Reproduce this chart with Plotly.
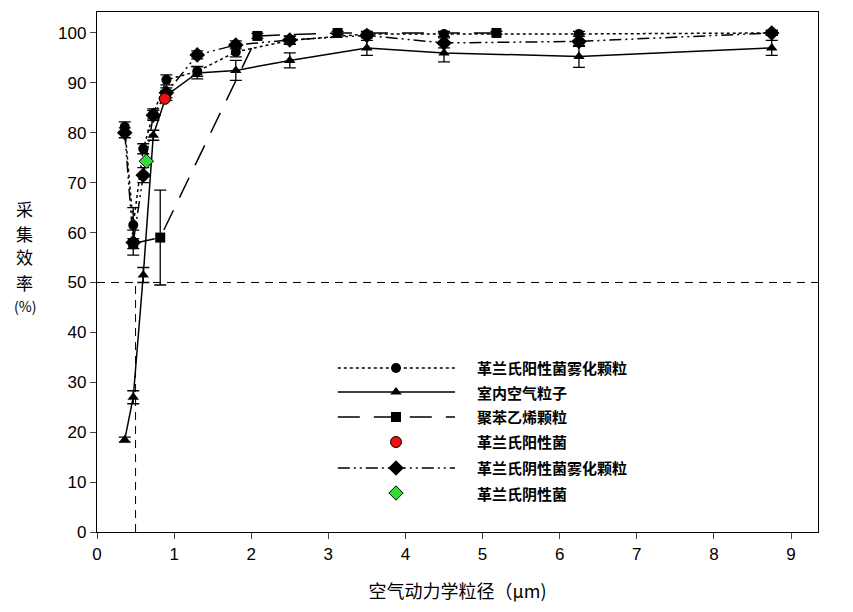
import plotly.graph_objects as go

# ---- data ----
x_common = [0.36, 0.47, 0.6, 0.73, 0.9, 1.3, 1.8, 2.5, 3.5, 4.5, 6.25, 8.75]
gp_aero = [81.2, 61.5, 76.8, 83.8, 90.6, 92.3, 96.2, 98.5, 99.8, 99.8, 99.8, 100]
gp_aero_err = [1.0, 3.5, 1.0, 1.0, 1.0, 1.0, 1.0, 0.8, 0.5, 0.5, 0.5, 0.5]
indoor = [18.5, 27.0, 51.5, 79.5, 87.5, 92.0, 92.5, 94.5, 97.0, 96.0, 95.3, 97.0]
indoor_err = [0.5, 1.3, 1.5, 1.0, 1.0, 1.2, 2.0, 1.5, 1.5, 1.8, 2.2, 1.5]
gn_aero = [80.0, 58.0, 71.5, 83.5, 88.0, 95.6, 97.6, 98.6, 99.5, 98.0, 98.3, 100]
gn_aero_err = [1.0, 2.5, 1.5, 1.0, 1.0, 0.8, 0.8, 0.8, 0.5, 1.0, 1.0, 0.5]
ps_x = [0.47, 0.82, 2.08, 3.12, 5.18]
ps_y = [57.8, 59.0, 99.4, 100.0, 100.0]
ps_err = [1.0, 9.5, 0.5, 0.3, 0.3]
gp_x = [0.88]
gp_y = [86.8]
gn_x = [0.64]
gn_y = [74.3]

names = ["革兰氏阳性菌雾化颗粒", "室内空气粒子", "聚苯乙烯颗粒", "革兰氏阳性菌",
         "革兰氏阴性菌雾化颗粒", "革兰氏阴性菌"]
y_title_chars = ["采", "集", "效", "率", "(%)"]

x_ticks = list(range(0, 10))
y_ticks = list(range(0, 101, 10))

DDOT = "12px,4px,2px,4px,2px,4px"
fig = go.Figure()

def eb(arr):
    return dict(type="data", array=arr, visible=True, color="black", thickness=1.3, width=6)

fig.add_trace(go.Scatter(x=x_common, y=indoor, mode="lines+markers",
                         line=dict(color="black", width=1.5),
                         marker=dict(symbol="triangle-up", size=10, color="black"),
                         error_y=eb(indoor_err), showlegend=False))
fig.add_trace(go.Scatter(x=ps_x, y=ps_y, mode="lines+markers",
                         line=dict(color="black", width=1.5, dash="22px,14px"),
                         marker=dict(symbol="square", size=10, color="black"),
                         error_y=eb(ps_err), showlegend=False))
fig.add_trace(go.Scatter(x=x_common, y=gn_aero, mode="lines+markers",
                         line=dict(color="black", width=1.5, dash=DDOT),
                         marker=dict(symbol="diamond", size=12, color="black"),
                         error_y=eb(gn_aero_err), showlegend=False))
fig.add_trace(go.Scatter(x=x_common, y=gp_aero, mode="lines+markers",
                         line=dict(color="black", width=1.5, dash="dot"),
                         marker=dict(symbol="circle", size=10, color="black"),
                         error_y=eb(gp_aero_err), showlegend=False))
fig.add_trace(go.Scatter(x=gp_x, y=gp_y, mode="markers",
                         marker=dict(symbol="circle", size=11, color="#ee1111",
                                     line=dict(color="black", width=1)),
                         showlegend=False))
fig.add_trace(go.Scatter(x=gn_x, y=gn_y, mode="markers",
                         marker=dict(symbol="diamond", size=11, color="#33dd33",
                                     line=dict(color="black", width=1)),
                         showlegend=False))

# ---- custom legend (on an overlay axis spanning the plot area) ----
leg_rows = [0.3154, 0.2692, 0.2212, 0.1731, 0.1231, 0.075]
leg_styles = [
    ("dot", "circle", "black", 10, True),
    ("solid", "triangle-up", "black", 10, True),
    ("22px,14px", "square", "black", 10, True),
    (None, "circle", "#ee1111", 11, False),
    (DDOT, "diamond", "black", 12, True),
    (None, "diamond", "#33dd33", 11, False),
]
lx0, lx1, lxm, ltx = 0.334, 0.4965, 0.4147, 0.524
for yy, (dash, sym, col, sz, has_line), nm in zip(leg_rows, leg_styles, names):
    if has_line:
        fig.add_trace(go.Scatter(x=[lx0, lx1], y=[yy, yy], mode="lines",
                                 line=dict(color="black", width=1.5, dash=dash),
                                 xaxis="x2", yaxis="y2", showlegend=False, hoverinfo="skip"))
    fig.add_trace(go.Scatter(x=[lxm], y=[yy], mode="markers",
                             marker=dict(symbol=sym, size=sz, color=col,
                                         line=dict(color="black", width=1 if col != "black" else 0)),
                             xaxis="x2", yaxis="y2", showlegend=False, hoverinfo="skip"))
    fig.add_annotation(x=ltx, y=yy, xref="paper", yref="paper", text="<b>" + nm + "</b>",
                       showarrow=False, xanchor="left", yanchor="middle",
                       font=dict(family="Noto Sans CJK SC", size=15, color="black"))

# reference lines
fig.add_shape(type="line", xref="paper", yref="y", x0=0, x1=1, y0=50, y1=50,
              line=dict(color="black", width=1, dash="8px,6px"))
fig.add_shape(type="line", xref="x", yref="y", x0=0.5, x1=0.5, y0=0, y1=50,
              line=dict(color="black", width=1, dash="8px,6px"))

# stacked y-axis title
title_rows = [0.623, 0.575, 0.529, 0.479, 0.435]
for ch, yy in zip(y_title_chars, title_rows):
    fig.add_annotation(x=-0.1, y=yy, xref="paper", yref="paper", text=ch,
                       showarrow=False, xanchor="center", yanchor="middle",
                       font=dict(family="Noto Sans CJK SC", size=17 if len(ch) == 1 else 14,
                                 color="black"))

fig.update_layout(
    width=853, height=612,
    margin=dict(l=97, r=35, t=12, b=80),
    paper_bgcolor="white", plot_bgcolor="white",
    font=dict(family="Liberation Sans, Arial", size=17, color="black"),
    xaxis=dict(range=[0, 9.35], tickvals=x_ticks, ticks="outside", ticklen=6,
               tickwidth=1.3, showline=True, linecolor="black", linewidth=1.3,
               mirror=True, showgrid=False, zeroline=False,
               title=dict(text="空气动力学粒径（μm)", standoff=22,
                          font=dict(family="Noto Sans CJK SC", size=18))),
    yaxis=dict(range=[0, 104.2], tickvals=y_ticks, ticks="outside", ticklen=6,
               tickwidth=1.3, showline=True, linecolor="black", linewidth=1.3,
               mirror=True, showgrid=False, zeroline=False),
    xaxis2=dict(range=[0, 1], overlaying="x", visible=False, fixedrange=True),
    yaxis2=dict(range=[0, 1], overlaying="y", visible=False, fixedrange=True),
)

fig.write_html("out.html")
